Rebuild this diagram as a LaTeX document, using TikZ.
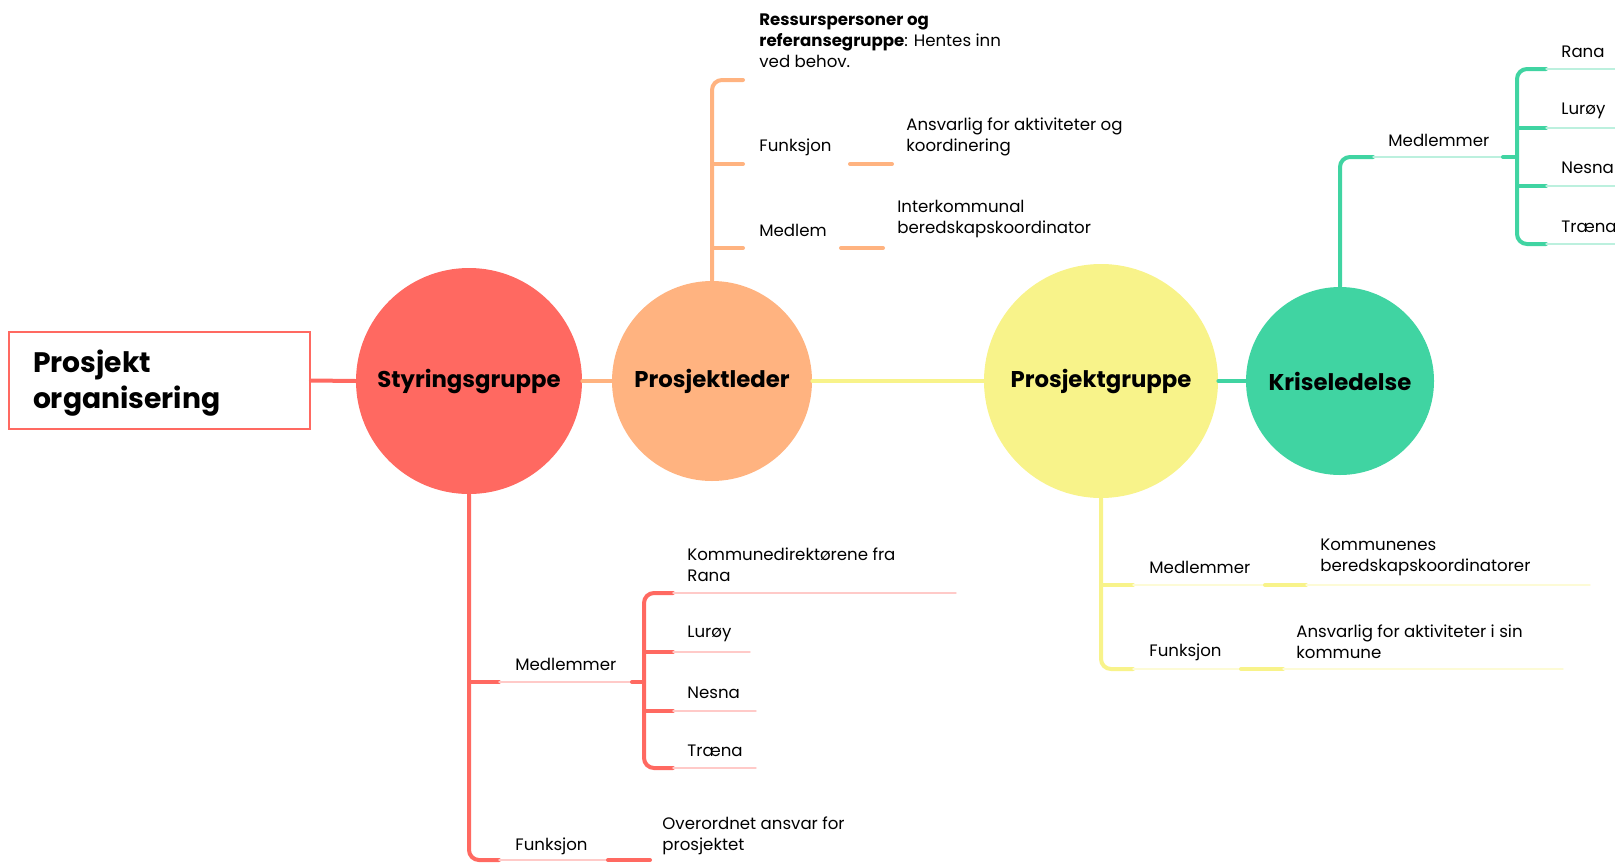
\documentclass[tikz,border=0pt]{standalone}
\usepackage{fontspec}
\setmainfont{Poppins}
\usetikzlibrary{positioning}
\definecolor{rod}{HTML}{FF6961}
\definecolor{oransje}{HTML}{FFB380}
\definecolor{gul}{HTML}{F8F38A}
\definecolor{gronn}{HTML}{40D4A2}

\begin{document}
\begin{tikzpicture}[x=0.5pt, y=-0.5pt, line cap=round, bubble/.style={circle, fill=#1, inner sep=0pt, font=\fontsize{11.4}{14}\selectfont\bfseries}, tekst/.style={anchor=west, inner sep=0pt, align=left, font=\fontsize{8.3}{10.5}\selectfont}, grein/.style={draw=#1, line width=2pt}, tynn/.style={draw=#1!35, line width=0.7pt}]
  \useasboundingbox (0,0) rectangle (1615,862);
  % hovednoder
  \node[draw=rod, line width=0.9pt, minimum width=150.5pt, minimum height=48.5pt, inner xsep=12pt, text width=126.5pt, align=left, font=\fontsize{14.1}{18}\selectfont\bfseries] (tittel) at (159.5,380.5) {\rule{0pt}{13.5pt}Prosjekt\\organisering};
  \node[bubble=rod, minimum size=113pt] (styr) at (469,381) {Styringsgruppe};
  \node[bubble=oransje, minimum size=100pt] (pleder) at (712,381) {Prosjektleder};
  \node[bubble=gul, minimum size=117pt] (pgruppe) at (1101,381) {Prosjektgruppe};
  \node[bubble=gronn, minimum size=94pt] (krise) at (1340,381) {Kriseledelse};
  \draw[grein=rod] (tittel.east) -- (styr.west);
  \draw[grein=oransje] (styr.east) -- (pleder.west);
  \draw[grein=gul] (pleder.east) -- (pgruppe.west);
  \draw[grein=gronn] (pgruppe.east) -- (krise.west);

  % prosjektleder
  \coordinate (pl1) at (743,80);
  \coordinate (pl2) at (743,164);
  \coordinate (pl3) at (743,248);
  \draw[grein=oransje, rounded corners=5pt] (pleder.north) -- (712,80) -- (pl1);
  \draw[grein=oransje] (712,164) -- (pl2);
  \draw[grein=oransje] (712,248) -- (pl3);
  \draw[grein=oransje] (850,164) -- (892,164);
  \draw[grein=oransje] (841,248) -- (883,248);
  \node[tekst] (ress) at (759,41) {\textbf{Ressurspersoner og}\\\textbf{referansegruppe}: Hentes inn\\ved behov.};
  \node[tekst] (plfunk) at (759,147) {Funksjon};
  \node[tekst] (plfunktxt) at (906,136.5) {Ansvarlig for aktiviteter og\\koordinering};
  \node[tekst] (plmedl) at (759,230) {Medlem};
  \node[tekst] (plmedltxt) at (897,219.5) {Interkommunal\\beredskapskoordinator};

  % kriseledelse
  \coordinate (kr0) at (1373,157);
  \coordinate (kr1) at (1503,157);
  \draw[grein=gronn, rounded corners=5pt] (krise.north) -- (1340,157) -- (kr0);
  \draw[tynn=gronn] (kr0) -- (kr1);
  \draw[grein=gronn] (kr1) -- (1517,157);
  \draw[grein=gronn, rounded corners=5pt] (1546,69) -- (1517,69) -- (1517,244) -- (1546,244);
  \draw[grein=gronn] (1517,128) -- (1546,128);
  \draw[grein=gronn] (1517,186) -- (1546,186);
  \foreach \yy in {69,128,186,244}
    \draw[tynn=gronn] (1546,\yy) -- (1615,\yy);
  \node[tekst] (krmedl) at (1388,140) {Medlemmer};
  \node[tekst] (krrana) at (1561,52) {Rana};
  \node[tekst] (krluroy) at (1561,111) {Lurøy};
  \node[tekst] (krnesna) at (1561,168) {Nesna};
  \node[tekst] (krtraena) at (1561,227) {Træna};

  % prosjektgruppe
  \draw[grein=gul, rounded corners=5pt] (pgruppe.south) -- (1101,669) -- (1133,669);
  \draw[grein=gul] (1101,585) -- (1133,585);
  \draw[tynn=gul] (1133,585) -- (1265,585);
  \draw[grein=gul] (1265,585) -- (1306,585);
  \draw[tynn=gul] (1306,585) -- (1590,585);
  \draw[tynn=gul] (1133,669) -- (1241,669);
  \draw[grein=gul] (1241,669) -- (1283,669);
  \draw[tynn=gul] (1283,669) -- (1563,669);
  \node[tekst] (pgmedl) at (1149,567) {Medlemmer};
  \node[tekst] (pgmedltxt) at (1320,557.5) {Kommunenes\\beredskapskoordinatorer};
  \node[tekst] (pgfunk) at (1149,652) {Funksjon};
  \node[tekst] (pgfunktxt) at (1296,641.5) {Ansvarlig for aktiviteter i sin\\kommune};

  % styringsgruppe
  \draw[grein=rod, rounded corners=5pt] (styr.south) -- (469,860) -- (499,860);
  \draw[grein=rod] (469,682) -- (499,682);
  \draw[tynn=rod] (499,682) -- (632,682);
  \draw[grein=rod] (632,682) -- (644,682);
  \draw[grein=rod, rounded corners=5pt] (673,593) -- (644,593) -- (644,768) -- (673,768);
  \draw[grein=rod] (644,652) -- (673,652);
  \draw[grein=rod] (644,711) -- (673,711);
  \draw[tynn=rod] (673,593) -- (956,593);
  \draw[tynn=rod] (673,652) -- (750,652);
  \draw[tynn=rod] (673,711) -- (756,711);
  \draw[tynn=rod] (673,768) -- (756,768);
  \draw[tynn=rod] (499,860) -- (608,860);
  \draw[grein=rod] (608,860) -- (650,860);
  \node[tekst] (stmedl) at (515,664) {Medlemmer};
  \node[tekst] (strana) at (687,564.5) {Kommunedirektørene fra\\Rana};
  \node[tekst] (stluroy) at (687,634) {Lurøy};
  \node[tekst] (stnesna) at (687,693) {Nesna};
  \node[tekst] (sttraena) at (687,751) {Træna};
  \node[tekst] (stfunk) at (515,846) {Funksjon};
  \node[tekst] (stfunktxt) at (662,835.5) {Overordnet ansvar for\\prosjektet};
\end{tikzpicture}
\end{document}
